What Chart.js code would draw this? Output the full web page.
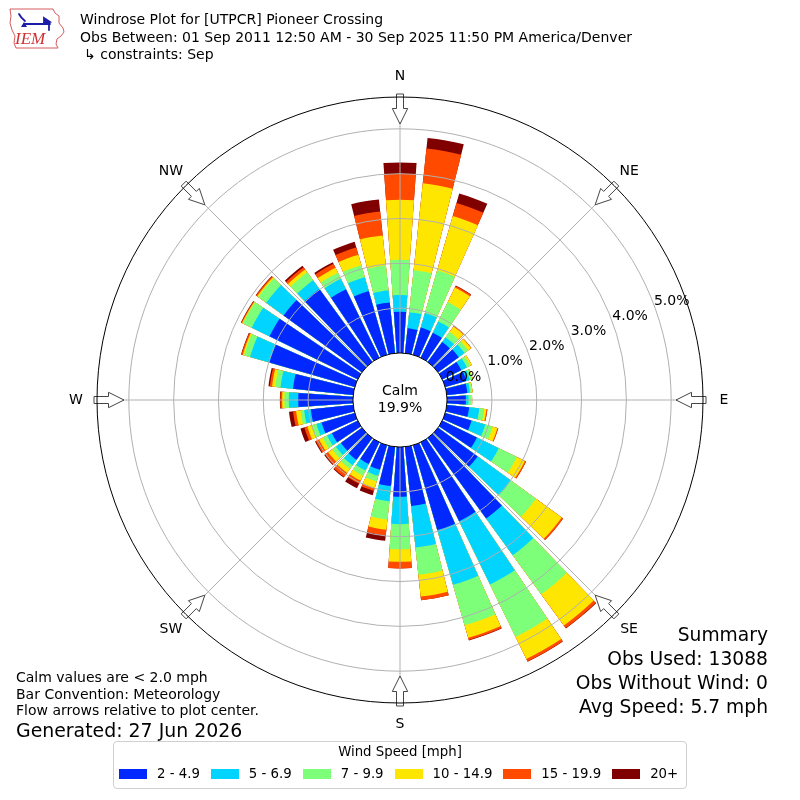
<!DOCTYPE html>
<html>
<head>
<meta charset="utf-8">
<script src="https://cdn.jsdelivr.net/npm/chart.js@4.4.1/dist/chart.umd.min.js"></script>
<style>
  html, body { margin: 0; padding: 0; background: #fff; }
  body { font-family: "DejaVu Sans", sans-serif; color: #000; }
  #wrap { position: relative; width: 800px; height: 800px; overflow: hidden; }
  #wrap canvas { position: absolute; left: 0; top: 0; }
  .t { position: absolute; white-space: nowrap; }
  #legend { position: absolute; left: 113px; top: 741px; width: 572px; height: 46px;
            border: 1px solid #d0d0d0; border-radius: 4px; background: #fff; }
  #legendTitle { position: absolute; left: 0; top: 2px; width: 100%; text-align: center;
                 font-size: 13.3px; line-height: 16px; white-space: nowrap; }
  #legendItems { position: absolute; left: 5px; top: 24px; height: 16px; display: flex; align-items: center;
                 white-space: nowrap; width: 600px; }
  .sw { width: 28px; height: 10px; margin-right: 10px; flex: 0 0 auto; }
  .lb { font-size: 13.3px; line-height: 16px; margin-right: 11px; flex: 0 0 auto; white-space: nowrap; }
</style>
</head>
<body>
<div id="wrap">
  <canvas id="c" width="800" height="800"></canvas>

  <svg class="t" style="left:6px;top:6px" width="62" height="46" viewBox="0 0 62 46">
    <path d="M4 3 L47 3 L49 7 L53 10 L53 17 L57 22 L58 26 L55 30 L51 33 L50 38 L52 42 L10 42 L8 37 L9 30 L6 24 L4 17 L5 10 Z"
          fill="none" stroke="#d04a4a" stroke-width="0.9"/>
    <g stroke="#1c1ca8" stroke-width="1.8" fill="none" stroke-linecap="round">
      <path d="M13 8 Q15 12 19 15"/>
      <path d="M19 18 L44 18"/>
      <path d="M38 12 L44 16 L38 18 Z" fill="#1c1ca8"/>
      <path d="M43 18 L43 24"/>
    </g>
    <path d="M15 21 L18 16 L21 21 Z" fill="#1c1ca8"/>
    <text x="9" y="38" font-family="Liberation Serif, serif" font-style="italic" font-size="17" fill="#d03030">IEM</text>
  </svg>

  <div class="t" style="left:80px;top:11px;font-size:14px;line-height:16px;">Windrose Plot for [UTPCR] Pioneer Crossing</div>
  <div class="t" style="left:80px;top:29px;font-size:14px;line-height:16px;">Obs Between: 01 Sep 2011 12:50 AM - 30 Sep 2025 11:50 PM America/Denver</div>
  <div class="t" style="left:84px;top:45.5px;font-size:14px;line-height:16px;">↳ constraints: Sep</div>

  <div class="t" style="left:16px;top:669px;font-size:14px;line-height:16px;">Calm values are &lt; 2.0 mph</div>
  <div class="t" style="left:16px;top:685.5px;font-size:14px;line-height:16px;">Bar Convention: Meteorology</div>
  <div class="t" style="left:16px;top:702px;font-size:14px;line-height:16px;">Flow arrows relative to plot center.</div>
  <div class="t" style="left:16px;top:719px;font-size:18.9px;line-height:22px;">Generated: 27 Jun 2026</div>

  <div class="t" style="right:32px;top:623px;font-size:18.7px;line-height:24px;text-align:right;">Summary</div>
  <div class="t" style="right:32px;top:647px;font-size:18.7px;line-height:24px;text-align:right;">Obs Used: 13088</div>
  <div class="t" style="right:32px;top:671px;font-size:18.7px;line-height:24px;text-align:right;">Obs Without Wind: 0</div>
  <div class="t" style="right:32px;top:694.5px;font-size:18.7px;line-height:24px;text-align:right;">Avg Speed: 5.7 mph</div>

  <div id="legend">
    <div id="legendTitle">Wind Speed [mph]</div>
    <div id="legendItems"></div>
  </div>
</div>

<script>
// ---------------- DATA ----------------
const directions = [0, 10, 20, 30, 40, 50, 60, 70, 80, 90, 100, 110, 120, 130, 140, 150, 160, 170,
                    180, 190, 200, 210, 220, 230, 240, 250, 260, 270, 280, 290, 300, 310, 320, 330, 340, 350];

const speedLabels = ['2 - 4.9', '5 - 6.9', '7 - 9.9', '10 - 14.9', '15 - 19.9', '20+'];

// percent of observations per direction and speed bin
const speed2to5   = [0.92, 0.56, 0.63, 0.62, 0.55, 0.57, 0.47, 0.49, 0.46, 0.42, 0.50, 0.61, 0.86, 1.09, 2.22, 1.96, 1.97, 1.33,
                     1.11, 0.88, 0.57, 0.54, 0.60, 0.58, 0.64, 0.77, 0.95, 1.22, 1.35, 1.98, 2.19, 2.16, 2.01, 1.70, 1.48, 1.14];
const speed5to7   = [0.37, 0.36, 0.34, 0.28, 0.13, 0.16, 0.14, 0.08, 0.06, 0.06, 0.23, 0.32, 0.54, 0.92, 1.01, 1.57, 1.27, 0.93,
                     0.61, 0.34, 0.14, 0.16, 0.15, 0.14, 0.12, 0.12, 0.15, 0.21, 0.28, 0.45, 0.44, 0.48, 0.24, 0.26, 0.32, 0.27];
const speed7to10  = [0.79, 0.94, 0.99, 0.48, 0.15, 0.10, 0.08, 0.06, 0.04, 0.06, 0.11, 0.17, 0.45, 0.69, 1.08, 1.30, 0.94, 0.61,
                     0.56, 0.41, 0.13, 0.13, 0.10, 0.10, 0.11, 0.10, 0.08, 0.10, 0.12, 0.14, 0.22, 0.22, 0.22, 0.15, 0.28, 0.56];
const speed10to15 = [1.34, 1.95, 1.26, 0.36, 0.15, 0.08, 0.04, 0.01, 0.02, 0.02, 0.05, 0.11, 0.20, 0.71, 0.86, 0.55, 0.29, 0.49,
                     0.28, 0.23, 0.15, 0.12, 0.11, 0.11, 0.09, 0.11, 0.10, 0.05, 0.07, 0.03, 0.02, 0.03, 0.08, 0.12, 0.24, 0.67];
const speed15to20 = [0.58, 0.78, 0.30, 0.04, 0.02, 0.01, 0.00, 0.00, 0.00, 0.00, 0.02, 0.02, 0.03, 0.04, 0.07, 0.06, 0.05, 0.08,
                     0.15, 0.13, 0.07, 0.08, 0.11, 0.09, 0.08, 0.07, 0.07, 0.04, 0.05, 0.03, 0.02, 0.03, 0.06, 0.10, 0.17, 0.54];
const speed20plus = [0.25, 0.24, 0.22, 0.01, 0.00, 0.00, 0.00, 0.00, 0.00, 0.00, 0.00, 0.00, 0.00, 0.00, 0.01, 0.01, 0.01, 0.00,
                     0.00, 0.12, 0.10, 0.11, 0.02, 0.02, 0.02, 0.09, 0.09, 0.01, 0.03, 0.01, 0.01, 0.01, 0.04, 0.04, 0.13, 0.27];

const tickValues = [0, 1, 2, 3, 4, 5];
const tickLabels = ['0.0%', '1.0%', '2.0%', '3.0%', '4.0%', '5.0%'];

const compassAngles = [0, 45, 90, 135, 180, 225, 270, 315];
const compassLabels = ['N', 'NE', 'E', 'SE', 'S', 'SW', 'W', 'NW'];

const calmLabel = 'Calm';
const calmValue = '19.9%';

// ---------------- STYLE ----------------
const speedColors = ['#0028ff', '#00d4ff', '#7dff7a', '#ffe600', '#ff4a00', '#800000'];
const barAngle = 8;   // degrees of each sector bar
const gapAngle = 2;   // degrees of white gap between bars
const scaleMin = -1.05;
const scaleMax = 5.71;
const FONT = '"DejaVu Sans", sans-serif';

// ---------------- BUILD ----------------
const bins = [speed2to5, speed5to7, speed7to10, speed10to15, speed15to20, speed20plus];
// cumulative stacks (bar tops) per bin
const cumulative = bins.map((_, k) => directions.map((d, i) => {
  let s = 0; for (let j = 0; j <= k; j++) s += bins[j][i]; return +s.toFixed(4);
}));
// interleave each bar with an empty gap element
function withGaps(arr) { const out = []; arr.forEach(v => { out.push(v); out.push(null); }); return out; }
const labels = withGaps(directions.map(d => d + '°')).map(v => v === null ? '' : v);

const datasets = speedLabels.map((label, k) => ({
  label,
  data: withGaps(cumulative[k]),
  backgroundColor: speedColors[k],
  borderWidth: 0,
  angle: (ctx) => (ctx.dataIndex % 2 === 0 ? barAngle : gapAngle)
}));

// legend (HTML)
const li = document.getElementById('legendItems');
speedLabels.forEach((l, k) => {
  const sw = document.createElement('div'); sw.className = 'sw'; sw.style.background = speedColors[k];
  const tx = document.createElement('div'); tx.className = 'lb'; tx.textContent = l;
  li.appendChild(sw); li.appendChild(tx);
});

const windrosePlugin = {
  id: 'windrose',
  afterDatasetsDraw(chart) {
    const s = chart.scales.r, ctx = chart.ctx;
    const cx = s.xCenter, cy = s.yCenter, R = s.drawingArea;
    const r0 = s.getDistanceFromCenterForValue(0);
    ctx.save();
    ctx.strokeStyle = '#b0b0b0'; ctx.lineWidth = 1;
    compassAngles.forEach(a => {
      const t = a * Math.PI / 180;
      ctx.beginPath();
      ctx.moveTo(cx + r0 * Math.sin(t), cy - r0 * Math.cos(t));
      ctx.lineTo(cx + R * Math.sin(t), cy - R * Math.cos(t));
      ctx.stroke();
    });
    ctx.beginPath(); ctx.arc(cx, cy, r0, 0, Math.PI * 2);
    ctx.fillStyle = '#fff'; ctx.fill();
    ctx.restore();
  },
  afterDraw(chart) {
    const s = chart.scales.r, ctx = chart.ctx;
    const cx = s.xCenter, cy = s.yCenter, R = s.drawingArea;
    ctx.save();
    // compass arrows
    compassAngles.forEach(a => {
      const t = a * Math.PI / 180;
      const ux = Math.sin(t), uy = -Math.cos(t), px = Math.cos(t), py = Math.sin(t);
      const P = (u, v) => [cx + u * ux + v * px, cy + u * uy + v * py];
      const pts = [P(R - 27, 0), P(R - 11.5, 7.7), P(R - 11.5, 3.5), P(R + 3, 3.5),
                   P(R + 3, -3.5), P(R - 11.5, -3.5), P(R - 11.5, -7.7)];
      ctx.beginPath();
      pts.forEach((p, i) => i ? ctx.lineTo(p[0], p[1]) : ctx.moveTo(p[0], p[1]));
      ctx.closePath();
      ctx.fillStyle = '#fff'; ctx.fill();
      ctx.strokeStyle = '#444'; ctx.lineWidth = 1; ctx.stroke();
    });
    // outer circle
    ctx.beginPath(); ctx.arc(cx, cy, R, 0, Math.PI * 2);
    ctx.strokeStyle = '#000'; ctx.lineWidth = 1; ctx.stroke();
    // compass labels
    ctx.fillStyle = '#000';
    ctx.font = '14px ' + FONT;
    ctx.textAlign = 'center'; ctx.textBaseline = 'middle';
    compassAngles.forEach((a, i) => {
      const t = a * Math.PI / 180;
      ctx.fillText(compassLabels[i], cx + (R + 21) * Math.sin(t), cy - (R + 21) * Math.cos(t));
    });
    // radial tick labels
    const la = 20 * Math.PI / 180;
    tickValues.forEach((v, i) => {
      const d = s.getDistanceFromCenterForValue(v) + 20.5 - 0.5 * v;
      ctx.fillText(tickLabels[i], cx + d * Math.cos(la), cy - d * Math.sin(la));
    });
    // calm text
    ctx.fillText(calmLabel, cx, cy - 9);
    ctx.fillText(calmValue, cx, cy + 8);
    ctx.restore();
  }
};

new Chart(document.getElementById('c'), {
  type: 'polarArea',
  data: { labels, datasets },
  options: {
    responsive: false,
    animation: false,
    events: [],
    layout: { padding: { left: 97, right: 97, top: 97, bottom: 97 } },
    plugins: { legend: { display: false }, tooltip: { enabled: false } },
    scales: {
      r: {
        type: 'radialLinear',
        min: scaleMin,
        max: scaleMax,
        beginAtZero: false,
        bounds: 'data',
        startAngle: -barAngle / 2,
        ticks: { display: false },
        afterBuildTicks: (sc) => { sc.ticks = tickValues.map(v => ({ value: v })); },
        grid: {
          circular: true,
          z: 1,
          lineWidth: 1,
          color: (c) => (c.tick && c.tick.value === 0 ? '#000000' : '#b0b0b0')
        },
        angleLines: { display: false },
        pointLabels: { display: false }
      }
    }
  },
  plugins: [windrosePlugin]
});
</script>
</body>
</html>
